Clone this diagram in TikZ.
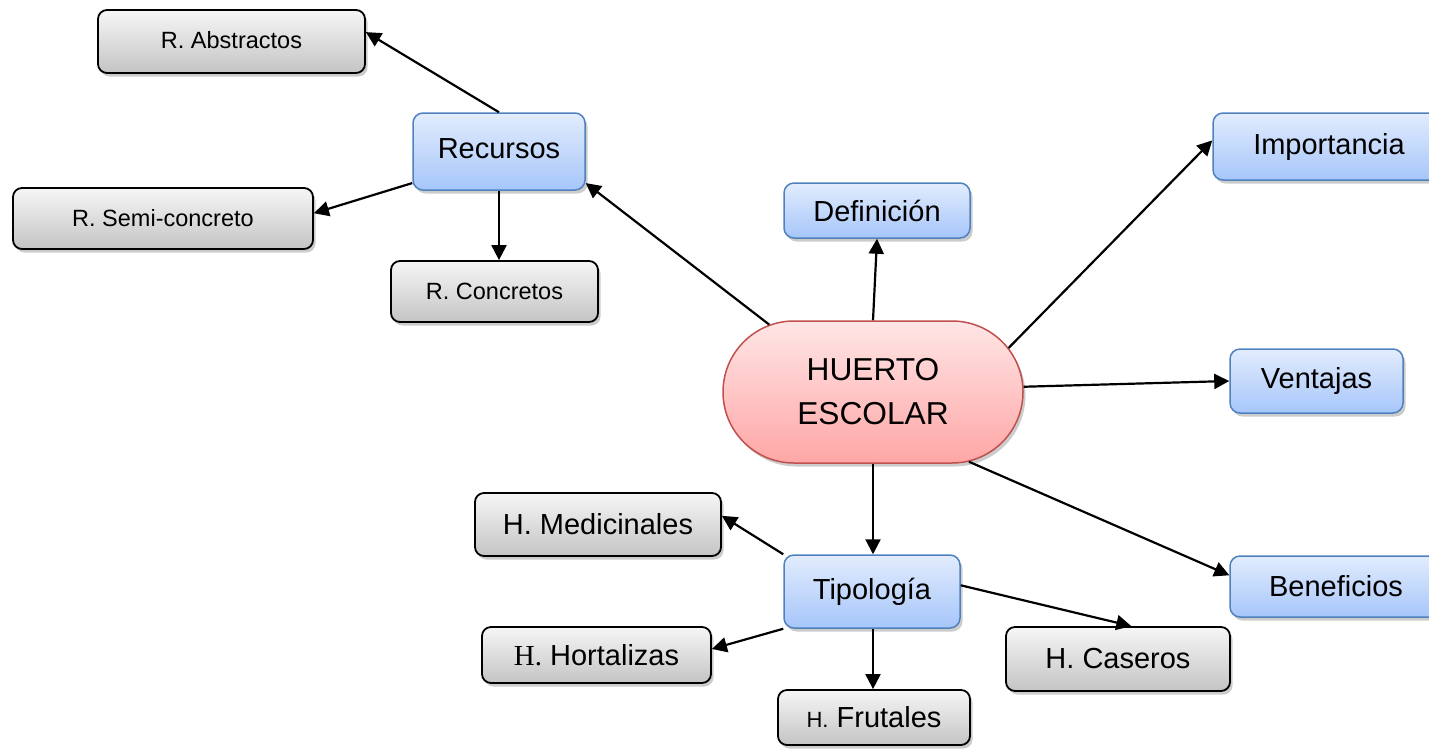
\documentclass[tikz,border=0pt]{standalone}
\usepackage{fontspec}
\setmainfont{Liberation Sans}
\newfontfamily\serifH{Liberation Serif}
\usetikzlibrary{shapes.misc,shadows,arrows.meta}
\definecolor{bluetop}{RGB}{226,236,253}
\definecolor{bluebot}{RGB}{166,198,250}
\definecolor{blueline}{RGB}{79,129,189}
\definecolor{graytop}{RGB}{246,246,246}
\definecolor{graybot}{RGB}{196,196,196}
\definecolor{redtop}{RGB}{255,230,230}
\definecolor{redbot}{RGB}{255,166,166}
\definecolor{redline}{RGB}{192,80,77}
\tikzset{
  shad/.style={drop shadow={shadow xshift=2.5pt,shadow yshift=-3.5pt,fill=black!40}},
  bluebox/.style={shad,draw=blueline,line width=1.5pt,rounded corners=10pt,
    top color=bluetop,bottom color=bluebot,inner sep=0pt,
    font=\fontsize{29}{33}\selectfont},
  graybox/.style={shad,draw=black,line width=1.8pt,rounded corners=9pt,
    top color=graytop,bottom color=graybot,inner sep=0pt,
    font=\fontsize{29}{33}\selectfont},
  smallgray/.style={graybox,font=\fontsize{23.5}{27}\selectfont},
  centerbox/.style={shad,rounded rectangle,draw=redline,line width=1.5pt,
    top color=redtop,bottom color=redbot,inner sep=0pt,
    minimum width=300pt,minimum height=142pt,align=center,
    font=\fontsize{31.7}{44}\selectfont},
  arr/.style={line width=2.2pt,-{Triangle[length=15pt,width=15pt]}}
}
\begin{document}
\begin{tikzpicture}[x=1pt,y=-1pt]
\useasboundingbox (0,0) rectangle (1429,748);
% nodes
\node[centerbox] (hue) at (873,392) {HUERTO\\ESCOLAR};
\node[bluebox,minimum width=172pt,minimum height=77pt] (rec) at (499,151.5) {\raisebox{5pt}{Recursos}};
\node[smallgray,minimum width=267pt,minimum height=63pt] (abs) at (231.5,41.5) {\raisebox{3pt}{R. Abstractos}};
\node[smallgray,minimum width=300pt,minimum height=61pt] (semi) at (163,218.5) {R. Semi-concreto};
\node[smallgray,minimum width=207pt,minimum height=61pt] (con) at (494.5,291.5) {R. Concretos};
\node[bluebox,minimum width=186pt,minimum height=55pt] (def) at (877,210.5) {Definición};
\node[bluebox,minimum width=232pt,minimum height=67pt] (imp) at (1329,146.5) {Importancia};
\node[bluebox,minimum width=173pt,minimum height=64pt] (ven) at (1316.5,381) {Ventajas};
\node[bluebox,minimum width=212pt,minimum height=61pt] (ben) at (1336,586.5) {Beneficios};
\node[bluebox,minimum width=176pt,minimum height=73pt] (tip) at (872,591.5) {\raisebox{2pt}{Tipología}};
\node[graybox,minimum width=246pt,minimum height=63pt] (med) at (598,524.5) {H. Medicinales};
\node[graybox,minimum width=229pt,minimum height=56pt] (hor) at (596.5,655) {{\serifH H.} Hortalizas};
\node[graybox,minimum width=192pt,minimum height=55pt] (fru) at (874,717.5) {{\fontsize{22}{26}\selectfont H.} Frutales};
\node[graybox,minimum width=224pt,minimum height=64pt] (cas) at (1118,659) {H. Caseros};
% connectors
\draw[arr] (hue.147) -- (rec.-20);
\draw[arr] (hue.north) -- (def.south);
\draw[arr] (hue.18) -- (imp.177);
\draw[arr] (hue.2) -- (ven.west);
\draw[arr] (hue.-36) -- (ben.174);
\draw[arr] (hue.south) -- (hue.south |- tip.north);
\draw[arr] (rec.north) -- (abs.4);
\draw[arr] (rec.200) -- (semi.2);
\draw[arr] (rec.south) -- (rec.south |- con.north);
\draw[arr] (tip.north west) -- (med.4);
\draw[arr] (tip.south west) -- (hor.3);
\draw[arr] (tip.south -| hue.south) -- (hue.south |- fru.north);
\draw[arr] (tip.4) -- (cas.68);
\end{tikzpicture}
\end{document}
